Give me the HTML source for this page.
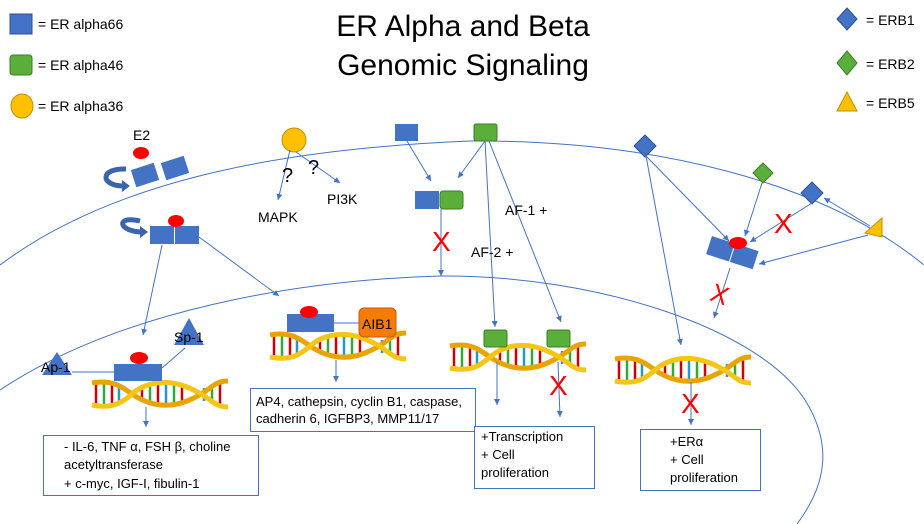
<!DOCTYPE html>
<html><head><meta charset="utf-8"><style>
html,body{margin:0;padding:0;background:#fff;}
svg{display:block;font-family:"Liberation Sans",sans-serif;}
</style></head><body>
<svg width="924" height="524" viewBox="0 0 924 524" xmlns="http://www.w3.org/2000/svg">
<defs>
<marker id="a" markerWidth="8" markerHeight="8" refX="6" refY="3" orient="auto" markerUnits="userSpaceOnUse"><path d="M0,0 L6,3 L0,6 z" fill="#4472c4"/></marker>
<g id="dna">
<g stroke-width="2.5">
<line x1="4" y1="4" x2="4" y2="26" stroke="#c00"/><line x1="12" y1="3" x2="12" y2="26" stroke="#3a3"/>
<line x1="20" y1="5" x2="20" y2="24" stroke="#c00"/><line x1="27" y1="8" x2="27" y2="22" stroke="#29c"/>
<line x1="50" y1="9" x2="50" y2="22" stroke="#c00"/><line x1="58" y1="6" x2="58" y2="26" stroke="#3a3"/>
<line x1="66" y1="4" x2="66" y2="27" stroke="#c00"/><line x1="74" y1="4" x2="74" y2="27" stroke="#29c"/>
<line x1="82" y1="5" x2="82" y2="26" stroke="#3a3"/><line x1="90" y1="7" x2="90" y2="24" stroke="#c00"/>
<line x1="112" y1="9" x2="112" y2="22" stroke="#29c"/><line x1="120" y1="6" x2="120" y2="25" stroke="#3a3"/>
<line x1="128" y1="4" x2="128" y2="26" stroke="#c00"/>
</g>
<path d="M0,4 C20,0 30,8 40,15 S70,32 95,22 S120,2 136,2" fill="none" stroke="#e8a400" stroke-width="5"/>
<path d="M0,26 C20,30 30,24 40,15 S70,-2 95,8 S120,28 136,28" fill="none" stroke="#f5c518" stroke-width="5"/>
</g>
</defs>
<!-- membranes -->
<path d="M0,265 C120,175 300,148 470,141 C650,140 820,180 924,265" fill="none" stroke="#4472c4" stroke-width="1"/>
<path d="M0,390 C120,310 300,280 440,276 C600,275 760,330 805,400 C830,440 830,480 797,524" fill="none" stroke="#4472c4" stroke-width="1"/>

<!-- legend -->
<rect x="10" y="14" width="22" height="20" fill="#4472c4" stroke="#2f528f"/>
<text x="38" y="29" font-size="14">= ER alpha66</text>
<rect x="10" y="55" width="22" height="20" rx="3" fill="#5aae3a" stroke="#3d7d26"/>
<text x="38" y="70" font-size="14">= ER alpha46</text>
<ellipse cx="22" cy="106" rx="11" ry="12" fill="#ffc000" stroke="#bf9000"/>
<text x="38" y="111" font-size="14">= ER alpha36</text>
<text x="463" y="36" font-size="30" text-anchor="middle">ER Alpha and Beta</text>
<text x="463" y="75" font-size="30" text-anchor="middle">Genomic Signaling</text>
<path d="M847,8 L857,19 L847,30 L837,19 z" fill="#4472c4" stroke="#2f528f"/>
<text x="866" y="25" font-size="14">= ERB1</text>
<path d="M847,51 L857,63 L847,75 L837,63 z" fill="#5aae3a" stroke="#3d7d26"/>
<text x="866" y="69" font-size="14">= ERB2</text>
<path d="M847,92 L857,111 L837,111 z" fill="#ffc000" stroke="#bf9000"/>
<text x="866" y="108" font-size="14">= ERB5</text>

<!-- E2 receptor at membrane -->
<text x="133" y="140" font-size="14">E2</text>
<ellipse cx="141" cy="153" rx="8" ry="6" fill="#f00"/>
<g transform="rotate(-18 145 175)"><rect x="133" y="166" width="24" height="18" fill="#4472c4"/></g>
<g transform="rotate(-18 175 168)"><rect x="163" y="159" width="24" height="18" fill="#4472c4"/></g>
<path d="M126,169 C100,168 100,185 122,186" fill="none" stroke="#3a63b0" stroke-width="5"/>
<path d="M122,180 L130,186 L122,192 z" fill="#3a63b0"/>
<path d="M140,221 C115,215 118,232 143,232" fill="none" stroke="#3a63b0" stroke-width="5"/>
<path d="M140,226 L148,232 L140,238 z" fill="#3a63b0"/>
<rect x="150" y="226" width="24" height="18" fill="#4472c4"/><rect x="175" y="226" width="24" height="18" fill="#4472c4"/>
<ellipse cx="176" cy="221" rx="8" ry="6" fill="#f00"/>
<line x1="162" y1="245" x2="143" y2="335" stroke="#4472c4" marker-end="url(#a)"/>
<line x1="199" y1="237" x2="279" y2="296" stroke="#4472c4" marker-end="url(#a)"/>

<!-- alpha36 -->
<circle cx="294" cy="140" r="12" fill="#ffc000" stroke="#bf9000"/>
<line x1="290" y1="150" x2="278" y2="200" stroke="#4472c4" marker-end="url(#a)"/>
<line x1="296" y1="152" x2="340" y2="183" stroke="#4472c4" marker-end="url(#a)"/>
<text x="282" y="182" font-size="20">?</text>
<text x="308" y="174" font-size="20">?</text>
<text x="258" y="222" font-size="14">MAPK</text>
<text x="327" y="204" font-size="14">PI3K</text>

<!-- alpha66/46 dimer -->
<rect x="395" y="124" width="23" height="17" fill="#4472c4"/>
<rect x="474" y="124" width="23" height="17" rx="2" fill="#5aae3a" stroke="#3d7d26"/>
<line x1="407" y1="141" x2="431" y2="181" stroke="#4472c4" marker-end="url(#a)"/>
<line x1="485" y1="141" x2="458" y2="178" stroke="#4472c4" marker-end="url(#a)"/>
<rect x="415" y="191" width="24" height="18" fill="#4472c4"/>
<rect x="440" y="191" width="23" height="18" rx="3" fill="#5aae3a" stroke="#3d7d26"/>
<line x1="441" y1="209" x2="441" y2="276" stroke="#4472c4" marker-end="url(#a)"/>
<text x="432" y="251" font-size="28" fill="#f00">X</text>
<line x1="485" y1="141" x2="495" y2="327" stroke="#4472c4" marker-end="url(#a)"/>
<line x1="489" y1="141" x2="561" y2="322" stroke="#4472c4" marker-end="url(#a)"/>
<text x="505" y="215" font-size="14">AF-1 +</text>
<text x="471" y="257" font-size="14">AF-2 +</text>

<!-- DNA 1 -->
<use href="#dna" x="92" y="379"/>
<path d="M57,352 L72,375 L42,375 z" fill="#4472c4"/>
<path d="M189,318 L204,345 L174,345 z" fill="#4472c4"/>
<text x="41" y="372" font-size="14">Ap-1</text>
<text x="174" y="342" font-size="14">Sp-1</text>
<line x1="72" y1="372" x2="114" y2="372" stroke="#4472c4"/>
<line x1="185" y1="348" x2="162" y2="368" stroke="#4472c4"/>
<rect x="114" y="364" width="24" height="17" fill="#4472c4"/><rect x="138" y="364" width="24" height="17" fill="#4472c4"/>
<ellipse cx="139" cy="358" rx="9" ry="6" fill="#f00"/>
<line x1="146" y1="407" x2="146" y2="427" stroke="#4472c4" marker-end="url(#a)"/>
<rect x="43.5" y="435.5" width="215" height="60" fill="#fff" stroke="#4472c4"/>
<text x="64" y="451" font-size="13">-   IL-6, TNF α, FSH β, choline</text>
<text x="64" y="469" font-size="13">acetyltransferase</text>
<text x="64" y="488" font-size="13">+  c-myc, IGF-I, fibulin-1</text>

<!-- DNA 2 -->
<use href="#dna" x="270" y="331"/>
<rect x="287" y="314" width="23" height="18" fill="#4472c4"/><rect x="310" y="314" width="24" height="18" fill="#4472c4"/>
<ellipse cx="309" cy="312" rx="9" ry="6" fill="#f00"/>
<line x1="334" y1="323" x2="359" y2="323" stroke="#4472c4"/>
<rect x="359" y="308" width="37" height="29" rx="5" fill="#f57c00" stroke="#c55a11"/>
<text x="362" y="329" font-size="14">AIB1</text>
<line x1="336" y1="360" x2="336" y2="382" stroke="#4472c4" marker-end="url(#a)"/>
<rect x="250.5" y="388.5" width="225" height="43" fill="#fff" stroke="#4472c4"/>
<text x="256" y="406" font-size="13">AP4, cathepsin, cyclin B1, caspase,</text>
<text x="256" y="423" font-size="13">cadherin 6, IGFBP3, MMP11/17</text>

<!-- DNA 3 -->
<use href="#dna" x="450" y="342"/>
<rect x="484" y="330" width="23" height="17" rx="2" fill="#5aae3a" stroke="#3d7d26"/>
<rect x="547" y="330" width="23" height="17" rx="2" fill="#5aae3a" stroke="#3d7d26"/>
<line x1="497" y1="362" x2="497" y2="405" stroke="#4472c4" marker-end="url(#a)"/>
<line x1="558" y1="362" x2="560" y2="417" stroke="#4472c4" marker-end="url(#a)"/>
<text x="549" y="395" font-size="28" fill="#f00">X</text>
<rect x="474.5" y="426.5" width="120" height="62" fill="#fff" stroke="#4472c4"/>
<text x="481" y="441" font-size="13">+Transcription</text>
<text x="481" y="459" font-size="13">+ Cell</text>
<text x="481" y="477" font-size="13">proliferation</text>

<!-- ERB section -->
<path d="M645,135 L656,146 L645,157 L634,146 z" fill="#4472c4" stroke="#2f528f"/>
<line x1="646" y1="156" x2="681" y2="345" stroke="#4472c4" marker-end="url(#a)"/>
<line x1="646" y1="156" x2="729" y2="241" stroke="#4472c4" marker-end="url(#a)"/>
<path d="M763,163 L773,173 L763,183 L753,173 z" fill="#5aae3a" stroke="#3d7d26"/>
<line x1="762" y1="183" x2="745" y2="236" stroke="#4472c4" marker-end="url(#a)"/>
<path d="M812,182 L823,193 L812,204 L801,193 z" fill="#4472c4" stroke="#2f528f"/>
<line x1="812" y1="203" x2="750" y2="242" stroke="#4472c4" marker-end="url(#a)"/>
<text x="774" y="233" font-size="28" fill="#f00">X</text>
<path d="M882,218 L882,237 L865,233 z" fill="#ffc000" stroke="#bf9000"/>
<line x1="870" y1="226" x2="824" y2="198" stroke="#4472c4" marker-end="url(#a)"/>
<line x1="868" y1="235" x2="759" y2="264" stroke="#4472c4" marker-end="url(#a)"/>
<g transform="rotate(18 732 252)"><rect x="708" y="243" width="24" height="19" fill="#4472c4"/><rect x="733" y="243" width="24" height="19" fill="#4472c4"/></g>
<ellipse cx="738" cy="243" rx="9" ry="6" fill="#f00"/>
<line x1="730" y1="268" x2="714" y2="318" stroke="#4472c4" marker-end="url(#a)"/>
<text x="711" y="304" font-size="26" fill="#f00" transform="rotate(20 722 295)">X</text>

<!-- DNA 4 -->
<use href="#dna" x="615" y="355"/>
<line x1="691" y1="382" x2="691" y2="425" stroke="#4472c4" marker-end="url(#a)"/>
<text x="681" y="413" font-size="28" fill="#f00">X</text>
<rect x="640.5" y="429.5" width="120" height="61" fill="#fff" stroke="#4472c4"/>
<text x="670" y="446" font-size="13">+ERα</text>
<text x="670" y="464" font-size="13">+ Cell</text>
<text x="670" y="482" font-size="13">proliferation</text>
</svg>
</body></html>
